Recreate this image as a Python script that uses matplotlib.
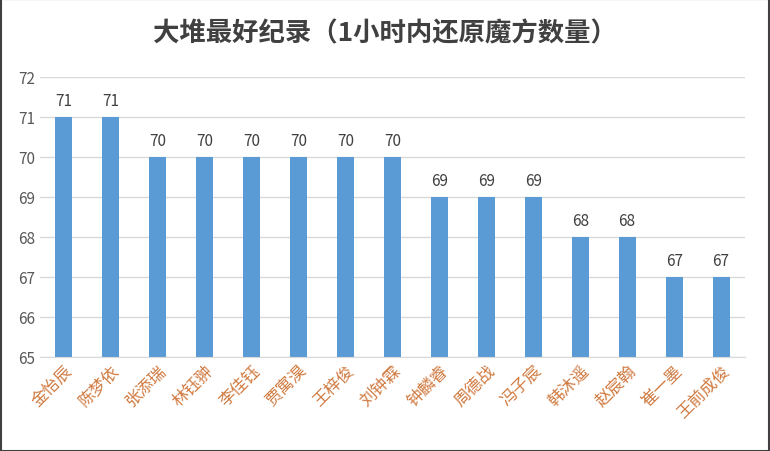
import matplotlib.pyplot as plt

names = ['金怡辰', '陈梦依', '张添瑞', '林钰翀', '李佳钰', '贾寓淏', '王梓俊', '刘钟霖',
         '钟麟睿', '周德战', '冯子宸', '韩沐遥', '赵宸翰', '崔一墨', '王前成俊']
scores = [71, 71, 70, 70, 70, 70, 70, 70, 69, 69, 69, 68, 68, 67, 67]
yticks = [65, 66, 67, 68, 69, 70, 71, 72]

plt.rcParams['font.family'] = 'Noto Sans CJK SC'
fig = plt.figure(figsize=(7.7, 4.52), dpi=100)
fig.patches.append(plt.Rectangle((0.001, 0.001), 0.998, 0.998, transform=fig.transFigure,
                                 fill=False, edgecolor='#404040', lw=1.5))
ax = fig.add_axes([0.052, 0.208, 0.915, 0.62])
x = range(len(names))
ax.bar(x, scores, width=0.36, color='#5b9bd5', zorder=2)
for i, v in zip(x, scores):
    ax.text(i, v + 0.2, str(v), ha='center', va='bottom', fontsize=11, color='#404040')
ax.set_ylim(65, 72)
ax.set_xlim(-0.5, len(names) - 0.5)
ax.set_yticks(yticks)
ax.tick_params(axis='y', length=0, labelsize=11, labelcolor='#595959')
ax.grid(axis='y', color='#d9d9d9', lw=1, zorder=0)
ax.set_xticks(list(x))
ax.set_xticklabels(names, rotation=45, ha='right', rotation_mode='anchor',
                   fontsize=12, color='#d07a40', fontweight='light')
ax.tick_params(axis='x', length=0)
for s in ['top', 'right', 'left']:
    ax.spines[s].set_visible(False)
ax.spines['bottom'].set_color('#d9d9d9')
fig.text(0.5, 0.925, '大堆最好纪录（1小时内还原魔方数量）', ha='center', va='center',
         fontsize=19, fontweight='bold', color='#404040')
fig.savefig('out.png', dpi=100)
